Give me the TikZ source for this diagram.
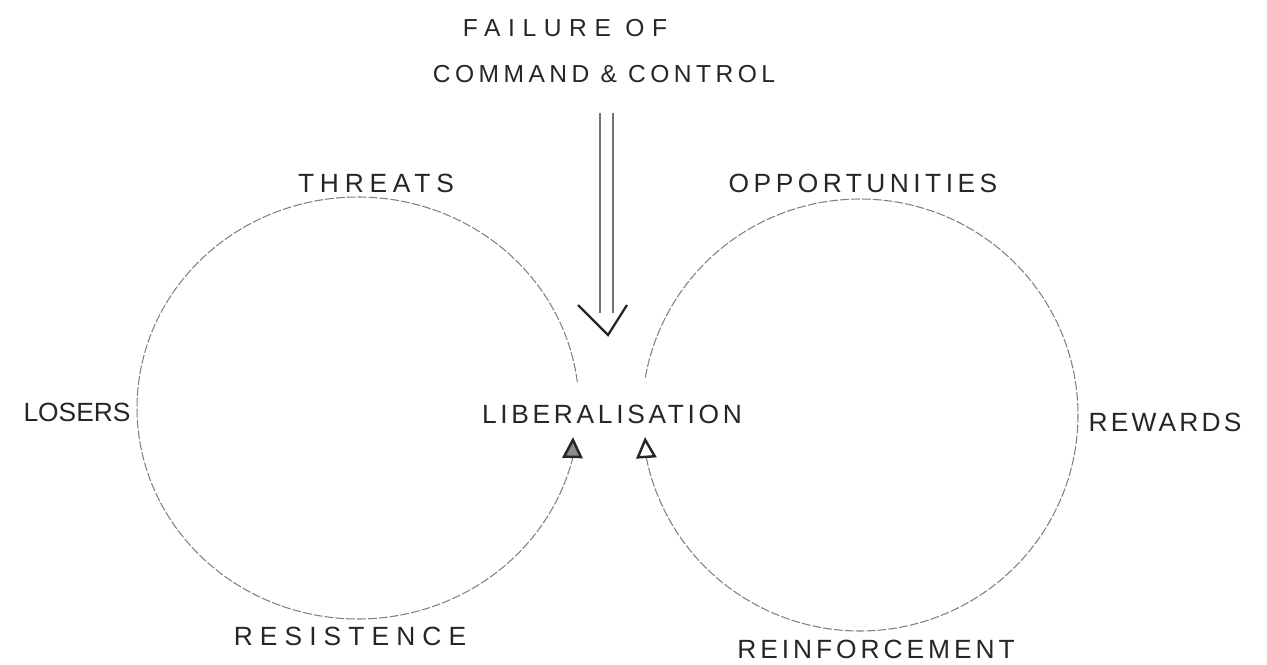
\documentclass[tikz,border=0pt]{standalone}
\usepackage{fontspec}
\usetikzlibrary{arrows.meta}
\newcommand\hw[2]{\fontspec{Liberation Sans}[LetterSpace=#1]\fontsize{#2}{#2}\selectfont}
\tikzset{
  lbl/.style={text=black!85, inner sep=0pt, anchor=center},
  loop/.style={draw=black!50, line width=0.6pt, dash pattern=on 5pt off 1.2pt},
  tipopen/.style={-{Triangle[open, length=12pt, width=11.5pt, line width=1.4pt, color=black!85]}},
  tipfill/.style={-{Triangle[length=12pt, width=11.5pt, line width=1.4pt, color=black!85, fill=black!45]}},
  shaft/.style={draw=black!55, line width=0.9pt},
  head/.style={draw=black!85, line width=1.3pt}
}
\begin{document}
\begin{tikzpicture}[x=0.02cm, y=-0.02cm]
\useasboundingbox (0,0) rectangle (1267,665);
% labels
\node[lbl, font=\hw{31}{14}] (fail) at (565,28) {FAILURE OF};
\node[lbl, font=\hw{18}{14}] (cmd) at (604,74) {COMMAND \& CONTROL};
\node[lbl, font=\hw{22}{15}] (threats) at (376,183) {THREATS};
\node[lbl, font=\hw{17}{15}] (opp) at (863,183) {OPPORTUNITIES};
\node[lbl, font=\hw{0}{15}] (losers) at (77,412) {LOSERS};
\node[lbl, font=\hw{14}{15}] (lib) at (612,414) {LIBERALISATION};
\node[lbl, font=\hw{12}{15}] (rewards) at (1165,422) {REWARDS};
\node[lbl, font=\hw{27}{15}] (resist) at (350,636) {RESISTENCE};
\node[lbl, font=\hw{15}{15}] (reinf) at (876,649) {REINFORCEMENT};
% arrow apexes under LIBERALISATION
\coordinate (la) at (573,437);
\coordinate (ra) at (645,437);
% left loop
\draw[loop, tipfill] plot[domain=7:346, samples=140, smooth] ({358+221*cos(\x)}, {408-211*sin(\x)}) -- (la);
% right loop
\draw[loop, tipopen] plot[domain=170:-168.5, samples=140, smooth] ({860+218*cos(\x)}, {415-216*sin(\x)}) -- (ra);
% double arrow from failure of command & control
\coordinate (ca) at (606,113);
\coordinate (cb) at (608,335);
\draw[shaft] (ca) ++(-6,0) -- ++(0,200);
\draw[shaft] (ca) ++(7,0) -- ++(0,200);
\draw[head] (cb) ++(-30,-30) -- (cb) -- ++(19,-30);
\end{tikzpicture}
\end{document}
